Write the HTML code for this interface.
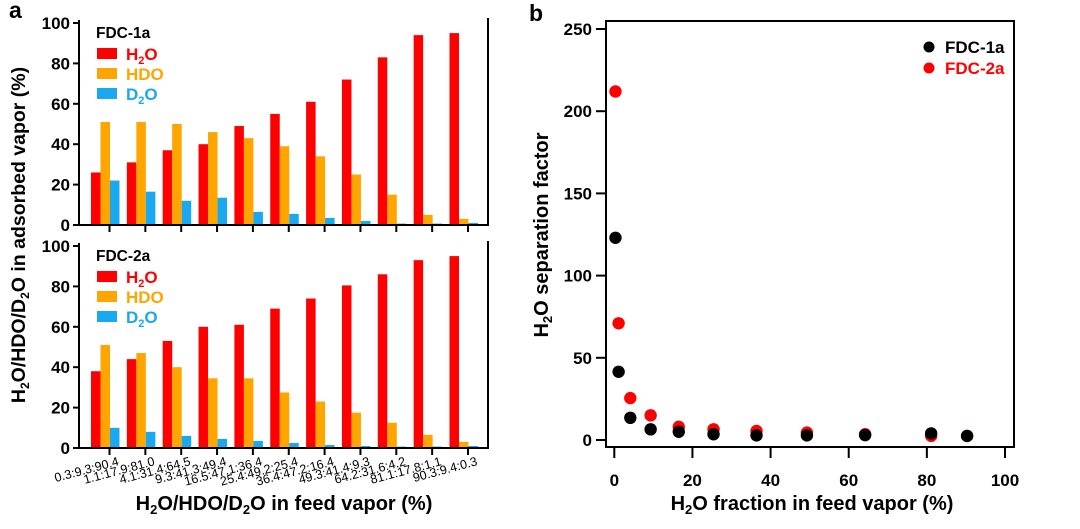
<!DOCTYPE html>
<html><head><meta charset="utf-8"><style>
body{margin:0;background:#fff}
svg{font-family:"Liberation Sans",Arial,sans-serif;font-weight:bold}
</style></head><body>
<svg id="c" width="1080" height="524" viewBox="0 0 1080 524"></svg>
<script>
const cats=["0.3:9.3:90.4","1.1:17.9:81.0","4.1:31.4:64.5","9.3:41.3:49.4","16.5:47.1:36.4","25.4:49.2:25.4","36.4:47.2:16.4","49.3:41.4:9.3","64.2:31.6:4.2","81.1:17.8:1.1","90.3:9.4:0.3"];
const h2o1=[26,31,37,40,49,55,61,72,83,94,95];
const hdo1=[51,51,50,46,43,39,34,25,15,5,3];
const d2o1=[22,16.5,12,13.5,6.5,5.5,3.5,2,0.7,0.7,1];
const h2o2=[38,44,53,60,61,69,74,80.5,86,93,95];
const hdo2=[51,47,40,34.5,34.5,27.5,23,17.5,12.5,6.5,3];
const d2o2=[10,8,6,4.5,3.5,2.5,1.5,1,0.7,0.7,1];
const yTicks=[0,20,40,60,80,100];
const fx=[0.3,1.1,4.1,9.3,16.5,25.4,36.4,49.3,64.2,81.1,90.3];
const sep1=[123,41.5,13.5,6.5,5,3.5,2.8,2.8,3,4,2.5];
const sep2=[212,71,25.5,15,8,6.5,5.5,4.5,3.5,2.5,2.5];
const xTicksB=[0,20,40,60,80,100];
const yTicksB=[0,50,100,150,200,250];
const NS="http://www.w3.org/2000/svg";
const svg=document.getElementById('c');
function el(t,a,p){const e=document.createElementNS(NS,t);for(const k in a)e.setAttribute(k,a[k]);(p||svg).appendChild(e);return e;}
const RED="#f00",ORG="#ffa500",BLU="#1aa8f0";
const L=79,R=488;
const cx=i=>109.5+i*35.85;
function panel(top0,top100,data,label,g){
  const y=v=>top0-(v/100)*(top0-top100);
  const series=[[data[0],RED,-14],[data[1],ORG,-4.5],[data[2],BLU,5]];
  series.forEach((s,si)=>{s[0].forEach((v,i)=>{
    const r=el('rect',{x:cx(i)+s[2]-4.5,y:y(v),width:9.5,height:top0-y(v),fill:s[1]},g);
    
    
  });});
  yTicks.forEach(t=>{
    el('line',{x1:L-6,x2:L,y1:y(t),y2:y(t),stroke:'#000','stroke-width':2},g);
    const tx=el('text',{x:L-9,y:y(t)+6,'text-anchor':'end','font-size':17},g);tx.textContent=t;
    
  });
  el('line',{x1:L,x2:L,y1:y(100)-3,y2:top0+1,stroke:'#000','stroke-width':2},g);
  el('line',{x1:L,x2:R,y1:top0,y2:top0,stroke:'#000','stroke-width':2},g);
  el('line',{x1:R,x2:R,y1:y(100)-5,y2:top0+1,stroke:'#000','stroke-width':2},g);
  cats.forEach((c,i)=>el('line',{x1:cx(i),x2:cx(i),y1:top0,y2:top0+7,stroke:'#000','stroke-width':2},g));
  const lt=el('text',{x:96,y:y(100)+15,'font-size':15.5},g);lt.textContent=label;
  
  [["H","2","O",RED],["HDO","","",ORG],["D","2","O",BLU]].forEach((l,k)=>{
    const yy=y(100)+31+k*20;
    el('rect',{x:97,y:yy-6,width:20,height:11,fill:l[3]},g);
    const t=el('text',{x:126,y:yy+6,'font-size':17,fill:l[3]},g);
    
    t.innerHTML=l[0]+(l[1]?'<tspan font-size="11" dy="4">'+l[1]+'</tspan><tspan dy="-4">'+l[2]+'</tspan>':'');
  });
}
const ga=el('g',{});
panel(225,23,[h2o1,hdo1,d2o1],'FDC-1a',ga);
panel(448,246,[h2o2,hdo2,d2o2],'FDC-2a',ga);
cats.forEach((c,i)=>{const X=cx(i)+10,Y=465;const t=el('text',{x:X,y:Y,'text-anchor':'end','font-size':12.5,'font-weight':'normal',transform:`rotate(-15 ${X} ${Y})`},ga);t.textContent=c;
});
let t=el('text',{x:9,y:18,'font-size':23});t.textContent='a';
t=el('text',{x:0,y:0,'font-size':19.5,'text-anchor':'middle',transform:'translate(25 235) rotate(-90)'});
t.innerHTML='H<tspan font-size="12" dy="4">2</tspan><tspan dy="-4">O/HDO/D</tspan><tspan font-size="12" dy="4">2</tspan><tspan dy="-4">O in adsorbed vapor (%)</tspan>';

t=el('text',{x:284,y:510,'font-size':20,'text-anchor':'middle'});
t.innerHTML='H<tspan font-size="13" dy="4">2</tspan><tspan dy="-4">O/HDO/D</tspan><tspan font-size="13" dy="4">2</tspan><tspan dy="-4">O in feed vapor (%)</tspan>';

// panel b
const gb=el('g',{});
const bx=v=>614.3+v*(1005-614.3)/100, by=v=>440-v*(440-29)/250;
el('rect',{x:606,y:21,width:408,height:426,fill:'none',stroke:'#000','stroke-width':2},gb);
xTicksB.forEach(v=>{el('line',{x1:bx(v),x2:bx(v),y1:447,y2:458,stroke:'#000','stroke-width':2},gb);
const tt=el('text',{x:bx(v),y:486,'text-anchor':'middle','font-size':17},gb);tt.textContent=v;
});
yTicksB.forEach(v=>{el('line',{x1:596,x2:606,y1:by(v),y2:by(v),stroke:'#000','stroke-width':2},gb);
const tt=el('text',{x:592,y:by(v)+6,'text-anchor':'end','font-size':17},gb);tt.textContent=v;
});
[[sep2,RED,'fdc-2a'],[sep1,'#000','fdc-1a']].forEach(s=>s[0].forEach((v,i)=>{
const c=el('circle',{cx:bx(fx[i]),cy:by(v),r:6.2,fill:s[1]},gb);
}));
el('circle',{cx:929,cy:47,r:5.5,fill:'#000'},gb);el('circle',{cx:929,cy:68,r:5.5,fill:RED},gb);
t=el('text',{x:945,y:53,'font-size':17},gb);t.textContent='FDC-1a';
t=el('text',{x:945,y:74,'font-size':17,fill:RED},gb);t.textContent='FDC-2a';
t=el('text',{x:529,y:21,'font-size':23});t.textContent='b';
t=el('text',{x:0,y:0,'font-size':20,'text-anchor':'middle',transform:'translate(548 235) rotate(-90)'});
t.innerHTML='H<tspan font-size="13" dy="4">2</tspan><tspan dy="-4">O separation factor</tspan>';

t=el('text',{x:812,y:510,'font-size':20,'text-anchor':'middle'});
t.innerHTML='H<tspan font-size="13" dy="4">2</tspan><tspan dy="-4">O fraction in feed vapor (%)</tspan>';

</script>
</body></html>
